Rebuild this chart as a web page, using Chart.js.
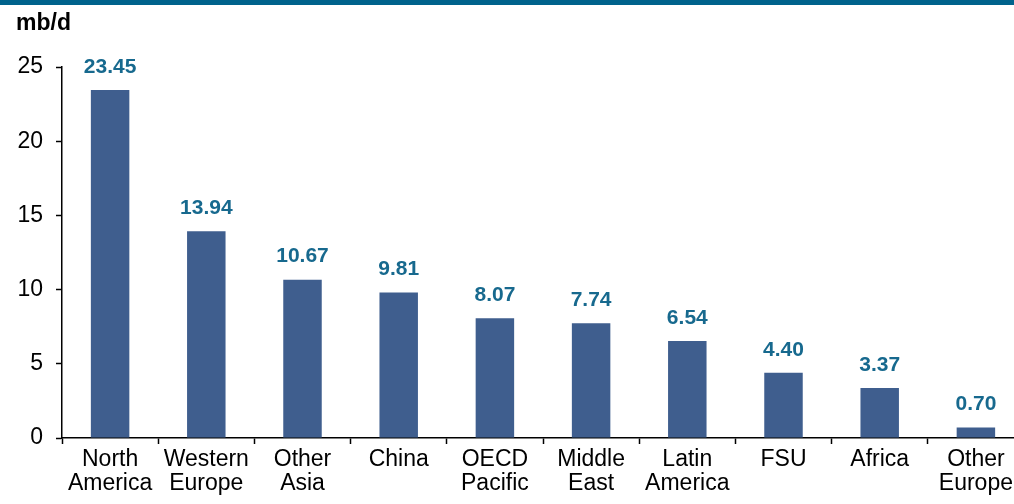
<!DOCTYPE html>
<html>
<head>
<meta charset="utf-8">
<script src="https://cdn.jsdelivr.net/npm/chart.js@4/dist/chart.umd.min.js"></script>
<style>
    html, body { margin: 0; padding: 0; background: #fff; overflow: hidden; }
    #wrap { position: relative; width: 1014px; height: 504px; overflow: hidden; }
    #band { position: absolute; left: 0; top: 0; width: 1014px; height: 5px; background: #00638C; }
    #unit { position: absolute; left: 16px; top: 9px; font: bold 23px "Liberation Sans", Arial, sans-serif; color: #000; }
    #box { position: absolute; left: 0; top: 0; width: 1024px; height: 504px; }
</style>
</head>
<body>
<div id="wrap">
    <div id="box"><canvas id="demandChart"></canvas></div>
    <div id="band"></div>
    <div id="unit">mb/d</div>
</div>
<script>
const regions = [
    ["North", "America"],
    ["Western", "Europe"],
    ["Other", "Asia"],
    "China",
    ["OECD", "Pacific"],
    ["Middle", "East"],
    ["Latin", "America"],
    "FSU",
    "Africa",
    ["Other", "Europe"]
];
const demand = [23.45, 13.94, 10.67, 9.81, 8.07, 7.74, 6.54, 4.40, 3.37, 0.70];
const yTicks = [0, 5, 10, 15, 20, 25];

const font = "'Liberation Sans', Arial, sans-serif";

const valueLabels = {
    id: "valueLabels",
    afterDatasetsDraw(chart) {
        const ctx = chart.ctx;
        const meta = chart.getDatasetMeta(0);
        ctx.save();
        ctx.font = "bold 21px " + font;
        ctx.fillStyle = "#17698E";
        ctx.textAlign = "center";
        ctx.textBaseline = "middle";
        meta.data.forEach((bar, i) => {
            ctx.fillText(demand[i].toFixed(2), bar.x, bar.y - 23);
        });
        ctx.restore();
    }
};

const ctx = document.getElementById("demandChart").getContext("2d");
new Chart(ctx, {
    type: "bar",
    data: {
        labels: regions,
        datasets: [{
            data: demand,
            backgroundColor: "#3F5E8E",
            borderWidth: 0,
            barPercentage: 0.4,
            categoryPercentage: 1
        }]
    },
    options: {
        responsive: true,
        maintainAspectRatio: false,
        animation: false,
        layout: { padding: { top: 67, left: 0, right: 0, bottom: 0 } },
        plugins: {
            legend: { display: false },
            tooltip: { enabled: false }
        },
        scales: {
            y: {
                min: 0,
                max: 25,
                afterBuildTicks(scale) {
                    scale.ticks = yTicks.map(v => ({ value: v }));
                },
                afterFit(scale) { scale.width = 62; },
                border: { color: "#000", width: 1.5 },
                grid: {
                    drawOnChartArea: false,
                    tickLength: 6,
                    tickColor: "#000",
                    tickWidth: 1.5
                },
                ticks: {
                    color: "#000",
                    font: { size: 23, family: font },
                    padding: 13
                }
            },
            x: {
                afterFit(scale) { scale.height = 66; },
                border: { color: "#000", width: 1.5 },
                grid: {
                    offset: true,
                    drawOnChartArea: false,
                    tickLength: 6,
                    tickColor: "#000",
                    tickWidth: 1.5
                },
                ticks: {
                    color: "#000",
                    font: { size: 23, family: font, lineHeight: 1.04 },
                    padding: 4,
                    maxRotation: 0,
                    autoSkip: false
                }
            }
        }
    },
    plugins: [valueLabels]
});
</script>
</body>
</html>
